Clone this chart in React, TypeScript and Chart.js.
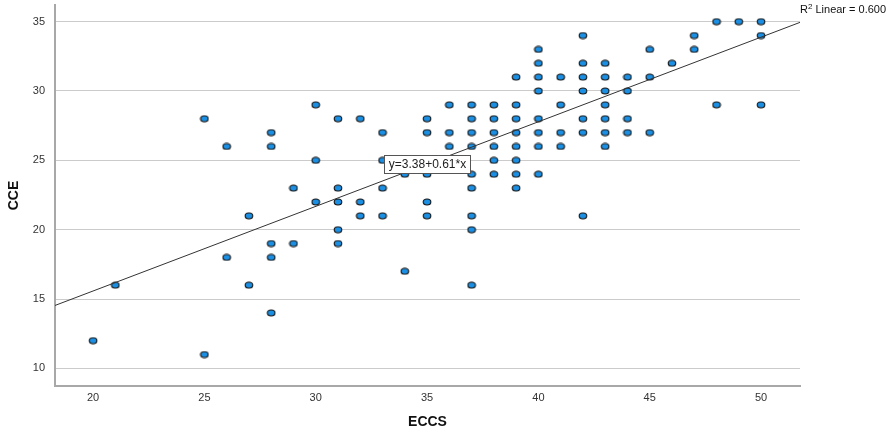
import React, { useEffect, useRef } from "react";
import { Chart, registerables } from "chart.js";

Chart.register(...registerables);

// ---- data ----
const ECCS = [
  20, 21, 25, 25, 26, 26, 27, 27, 28, 28, 28, 28, 28, 29, 29, 30, 30, 30,
  31, 31, 31, 31, 31, 32, 32, 32, 33, 33, 33, 33, 34, 34,
  35, 35, 35, 35, 35, 36, 36, 36,
  37, 37, 37, 37, 37, 37, 37, 37, 37,
  38, 38, 38, 38, 38, 38,
  39, 39, 39, 39, 39, 39, 39, 39,
  40, 40, 40, 40, 40, 40, 40, 40,
  41, 41, 41, 41,
  42, 42, 42, 42, 42, 42, 42,
  43, 43, 43, 43, 43, 43, 43,
  44, 44, 44, 44,
  45, 45, 45, 46, 47, 47, 48, 48, 49, 50, 50, 50,
];
const CCE = [
  12, 16, 28, 11, 26, 18, 21, 16, 27, 26, 19, 18, 14, 23, 19, 29, 25, 22,
  28, 23, 22, 20, 19, 28, 22, 21, 27, 25, 23, 21, 24, 17,
  28, 27, 24, 22, 21, 29, 27, 26,
  29, 28, 27, 26, 24, 23, 21, 20, 16,
  29, 28, 27, 26, 25, 24,
  31, 29, 28, 27, 26, 25, 24, 23,
  33, 32, 31, 30, 28, 27, 26, 24,
  31, 29, 27, 26,
  34, 32, 31, 30, 28, 27, 21,
  32, 31, 30, 29, 28, 27, 26,
  31, 30, 28, 27,
  33, 31, 27, 32, 34, 33, 35, 29, 35, 35, 34, 29,
];
const X_TICKS = [20, 25, 30, 35, 40, 45, 50];
const Y_TICKS = [10, 15, 20, 25, 30, 35];
const FIT_INTERCEPT = 3.38;
const FIT_SLOPE = 0.61;
const FIT_LABEL = "y=3.38+0.61*x";
const FIT_LABEL_AT = 35;
const R2_TEXT = " Linear = 0.600";
const X_TITLE = "ECCS";
const Y_TITLE = "CCE";

const X_MIN = 18.29;
const X_MAX = 51.75;
const Y_MIN = 8.73;
const Y_MAX = 36.2;

const FONT = "'Liberation Sans', Arial, sans-serif";

function makeDot(): HTMLCanvasElement {
  const c = document.createElement("canvas");
  c.width = 10;
  c.height = 8;
  const g = c.getContext("2d")!;
  g.beginPath();
  g.ellipse(5, 4, 3.8, 3.0, 0, 0, Math.PI * 2);
  g.fillStyle = "#1a8fe3";
  g.fill();
  g.lineWidth = 1.1;
  g.strokeStyle = "#141414";
  g.stroke();
  return c;
}

const annotations = {
  id: "spssAnnotations",
  afterDraw(chart: any) {
    const { ctx, chartArea, scales } = chart;
    const xs = scales.x;
    const ys = scales.y;
    ctx.save();

    // regression equation box
    ctx.font = `12px ${FONT}`;
    const tw = ctx.measureText(FIT_LABEL).width;
    const cx = xs.getPixelForValue(FIT_LABEL_AT);
    const ly = ys.getPixelForValue(FIT_INTERCEPT + FIT_SLOPE * FIT_LABEL_AT);
    const bw = Math.round(tw + 9);
    const bh = 18;
    const bx = Math.round(cx - bw / 2) + 0.5;
    const by = Math.round(ly - 9) + 0.5;
    ctx.fillStyle = "#ffffff";
    ctx.fillRect(bx, by, bw, bh);
    ctx.strokeStyle = "#555555";
    ctx.lineWidth = 1;
    ctx.strokeRect(bx, by, bw, bh);
    ctx.fillStyle = "#222222";
    ctx.textAlign = "center";
    ctx.textBaseline = "middle";
    ctx.fillText(FIT_LABEL, bx + bw / 2, by + bh / 2 + 0.5);

    // R² label
    ctx.textAlign = "left";
    ctx.textBaseline = "alphabetic";
    ctx.fillStyle = "#111111";
    let rx = chartArea.right;
    const base = 13;
    ctx.font = `11px ${FONT}`;
    ctx.fillText("R", rx, base);
    rx += ctx.measureText("R").width;
    ctx.font = `8px ${FONT}`;
    ctx.fillText("2", rx, base - 4);
    rx += ctx.measureText("2").width;
    ctx.font = `11px ${FONT}`;
    ctx.fillText(R2_TEXT, rx, base);

    // axis titles
    ctx.font = `bold 14px ${FONT}`;
    ctx.fillStyle = "#111111";
    ctx.textAlign = "center";
    ctx.textBaseline = "middle";
    ctx.fillText(X_TITLE, (chartArea.left + chartArea.right) / 2, 422);
    ctx.translate(14, (chartArea.top + chartArea.bottom) / 2);
    ctx.rotate(-Math.PI / 2);
    ctx.fillText(Y_TITLE, 0, 0);
    ctx.restore();
  },
};

export default function App() {
  const ref = useRef<HTMLCanvasElement>(null);

  useEffect(() => {
    const canvas = ref.current!;
    const dot = makeDot();
    const points = ECCS.map((x, i) => ({ x, y: CCE[i] }));
    const fit = [X_MIN, X_MAX].map((x) => ({ x, y: FIT_INTERCEPT + FIT_SLOPE * x }));

    const chart = new Chart(canvas, {
      type: "scatter",
      data: {
        datasets: [
          {
            type: "line",
            data: fit,
            borderColor: "#333333",
            borderWidth: 1,
            pointRadius: 0,
            fill: false,
            order: 0,
          } as any,
          {
            type: "scatter",
            data: points,
            pointStyle: dot as any,
            pointRadius: 4,
            order: 1,
          },
        ],
      },
      options: {
        responsive: false,
        animation: false,
        devicePixelRatio: 1,
        layout: { padding: { left: 0, top: 1, right: 90, bottom: 0 } },
        plugins: {
          legend: { display: false },
          tooltip: { enabled: false },
        },
        scales: {
          x: {
            type: "linear",
            min: X_MIN,
            max: X_MAX,
            afterBuildTicks: (s: any) => {
              s.ticks = X_TICKS.map((v) => ({ value: v }));
            },
            afterFit: (s: any) => {
              s.height = 43;
              s.paddingLeft = 0;
              s.paddingRight = 0;
              s.paddingTop = 0;
              s.paddingBottom = 0;
            },
            grid: { display: false, drawTicks: false },
            border: { display: true, color: "#a8a8a8", width: 2 },
            ticks: {
              padding: 5,
              color: "#333333",
              font: { family: FONT, size: 11 },
              maxRotation: 0,
              autoSkip: false,
            },
          },
          y: {
            type: "linear",
            min: Y_MIN,
            max: Y_MAX,
            afterBuildTicks: (s: any) => {
              s.ticks = Y_TICKS.map((v) => ({ value: v }));
            },
            afterFit: (s: any) => {
              s.width = 55;
              s.paddingLeft = 0;
              s.paddingRight = 0;
              s.paddingTop = 0;
              s.paddingBottom = 0;
            },
            grid: { display: true, drawTicks: false, color: "#cbcbcb", lineWidth: 1 },
            border: { display: true, color: "#a8a8a8", width: 2 },
            ticks: {
              padding: 10,
              color: "#333333",
              font: { family: FONT, size: 11 },
              autoSkip: false,
            },
          },
        },
      },
      plugins: [annotations],
    });
    return () => chart.destroy();
  }, []);

  return (
    <div style={{ position: "fixed", left: 0, top: 0, width: 890, height: 429, background: "#ffffff" }}>
      <canvas ref={ref} width={890} height={429} style={{ display: "block" }} />
    </div>
  );
}
